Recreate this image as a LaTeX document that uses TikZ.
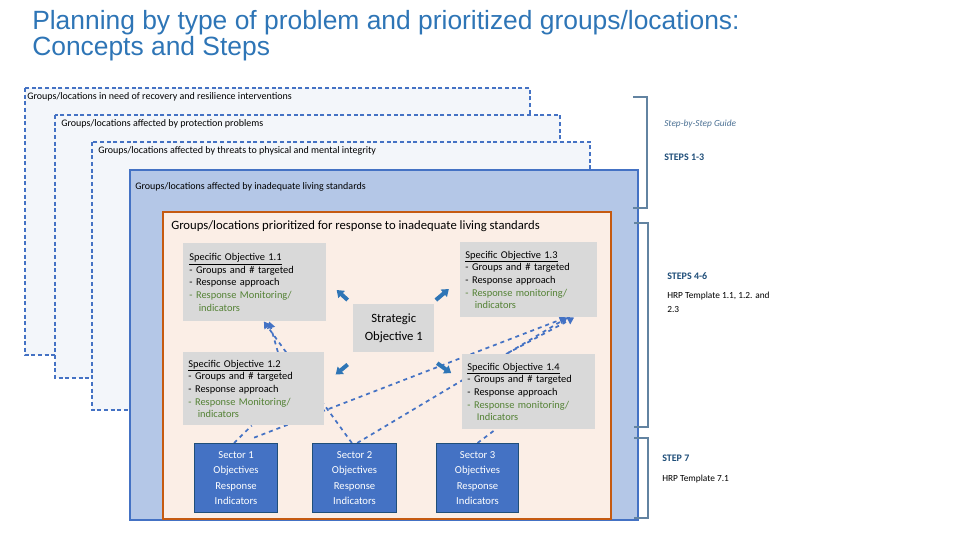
\documentclass[tikz,border=0pt]{standalone}
\usepackage{fontspec}
\setmainfont{Carlito}
\newfontfamily\titlefont{Liberation Sans}
\usetikzlibrary{arrows.meta}
\definecolor{tblue}{HTML}{2E75B6}
\definecolor{bblue}{HTML}{4472C4}
\definecolor{lblue}{HTML}{B4C7E7}
\definecolor{pale}{HTML}{F3F6FA}
\definecolor{peach}{HTML}{FBEEE6}
\definecolor{orng}{HTML}{C55A11}
\definecolor{gbox}{HTML}{D9D9D9}
\definecolor{grn}{HTML}{548235}
\definecolor{stepc}{HTML}{1F4E79}
\pgfdeclarelayer{bg}\pgfdeclarelayer{lines}
\pgfsetlayers{bg,lines,main}
\begin{document}
\begin{tikzpicture}[x=0.75pt,y=-0.75pt,
  outer/.style={draw=bblue,densely dashed,line width=1.2pt,fill=pale},
  lab/.style={anchor=north west,inner sep=0pt,font=\fontsize{7.5}{8}\selectfont},
  so/.style={fill=gbox,anchor=north west,inner sep=0pt,align=left,font=\fontsize{7.8}{10.5}\selectfont},
  sec/.style={fill=bblue,draw=stepc,line width=0.8pt,text=white,align=center,font=\fontsize{8}{11.5}\selectfont,inner sep=0pt,anchor=north west},
  bigarr/.style={draw=tblue,line width=3pt,-{Triangle[length=5pt,width=7pt]}},
  dl/.style={draw=bblue,dashed,line width=1.3pt},
  dla/.style={dl,-{Triangle[length=5pt,width=6pt]}},
  brk/.style={draw=stepc!70,line width=0.8pt},
  steplab/.style={anchor=west,inner sep=0pt,text=stepc,font=\bfseries\fontsize{7.5}{9}\selectfont},
  note/.style={anchor=west,inner sep=0pt,align=left,font=\fontsize{7}{10.5}\selectfont}]
\useasboundingbox (0,0) rectangle (960,540);
\node[anchor=north west,inner sep=0pt,text=tblue,align=left,font=\titlefont\fontsize{19.8}{19.5}\selectfont] (title) at (32,10) {Planning by type of problem and prioritized groups/locations:\\Concepts and Steps};
\begin{pgfonlayer}{bg}
\path[outer] (25,88) rectangle (530,355);
\path[outer] (55,115) rectangle (560,378);
\path[outer] (92,142) rectangle (590,410);
\path[draw=bblue,fill=lblue,line width=1.5pt] (130,170) rectangle (638,520);
\path[draw=orng,fill=peach,line width=1.8pt] (163,212) rectangle (611,519);
\end{pgfonlayer}
\node[lab] (l1) at (27,92) {Groups/locations in need of recovery and resilience interventions};
\node[lab] (l2) at (61,119) {Groups/locations affected by protection problems};
\node[lab] (l3) at (98,146) {Groups/locations affected by threats to physical and mental integrity};
\node[lab] (l4) at (135,182) {Groups/locations affected by inadequate living standards};
\node[lab,font=\fontsize{9.5}{10}\selectfont] (l5) at (171,220) {Groups/locations prioritized for response to inadequate living standards};

\node[so,minimum width=143*0.75pt,minimum height=78*0.75pt,text width=136*0.75pt] (s11) at (183,243) {\hspace*{2pt}\underline{Specific Objective 1.1}\\[-1pt]
\hspace*{2pt}- Groups and \# targeted\\[-1pt]\hspace*{2pt}- Response approach\\[-1pt]\hspace*{2pt}\textcolor{grn}{- Response Monitoring/}\\[-1pt]\hspace*{9pt}\textcolor{grn}{indicators}};
\node[so,minimum width=137*0.75pt,minimum height=75*0.75pt,text width=132*0.75pt] (s13) at (460,242) {\hspace*{2pt}\underline{Specific Objective 1.3}\\[-1pt]
\hspace*{2pt}- Groups and \# targeted\\[-1pt]\hspace*{2pt}- Response approach\\[-1pt]\hspace*{2pt}\textcolor{grn}{- Response monitoring/}\\[-1pt]\hspace*{9pt}\textcolor{grn}{indicators}};
\node[so,minimum width=141*0.75pt,minimum height=73*0.75pt,text width=136*0.75pt] (s12) at (183,352) {\hspace*{2pt}\underline{Specific Objective 1.2}\\[-1pt]
\hspace*{2pt}- Groups and \# targeted\\[-1pt]\hspace*{2pt}- Response approach\\[-1pt]\hspace*{2pt}\textcolor{grn}{- Response Monitoring/}\\[-1pt]\hspace*{9pt}\textcolor{grn}{indicators}};
\node[so,minimum width=133*0.75pt,minimum height=75*0.75pt,text width=128*0.75pt] (s14) at (462,354) {\hspace*{2pt}\underline{Specific Objective 1.4}\\[-1pt]
\hspace*{2pt}- Groups and \# targeted\\[-1pt]\hspace*{2pt}- Response approach\\[-1pt]\hspace*{2pt}\textcolor{grn}{- Response monitoring/}\\[-1pt]\hspace*{9pt}\textcolor{grn}{Indicators}};
\node[fill=gbox,anchor=north west,inner sep=0pt,minimum width=81*0.75pt,minimum height=48*0.75pt,align=center,font=\fontsize{9.5}{13}\selectfont] (so1) at (353,304) {Strategic\\Objective 1};

\node[sec,minimum width=83*0.75pt,minimum height=69*0.75pt] (sec1) at (194,443) {Sector 1\\Objectives\\Response\\Indicators};
\node[sec,minimum width=84*0.75pt,minimum height=69*0.75pt] (sec2) at (312,443) {Sector 2\\Objectives\\Response\\Indicators};
\node[sec,minimum width=82*0.75pt,minimum height=69*0.75pt] (sec3) at (436,443) {Sector 3\\Objectives\\Response\\Indicators};

\begin{pgfonlayer}{lines}
\draw[dl] ([xshift=-1.5pt]sec1.north) -- ([xshift=-1.5pt]s12.south);
\draw[dla] ([xshift=-35pt]s12.north east) -- ([xshift=-43pt]s11.south east);
\draw[dla] ([xshift=-2pt]sec2.north) -- ([xshift=-47pt]s11.south east);
\draw[dla] ([xshift=-18pt,yshift=4pt]sec1.north east) -- ([xshift=28pt]s13.south);
\draw[dla] ([xshift=2pt]sec2.north) -- ([xshift=29pt]s13.south);
\draw[dla] ([xshift=-17pt]s14.north) -- ([xshift=34pt]s13.south);
\draw[dl] ([xshift=0pt]sec3.north) -- ([xshift=-25pt]s14.south);
\end{pgfonlayer}
\draw[bigarr] ([xshift=-4pt,yshift=3pt]so1.north west) -- ++(-11,-10);
\draw[bigarr] ([xshift=1pt,yshift=3pt]so1.north east) -- ++(13,-11);
\draw[bigarr] ([xshift=-4pt,yshift=-9pt]so1.south west) -- ++(-12,10);
\draw[bigarr] ([xshift=2pt,yshift=-8pt]so1.south east) -- ++(14,10);

\coordinate (b1t) at (633,97); \coordinate (b1b) at (633,208);
\draw[brk] (b1t) -- ++(14,0) -- ++(0,111) -- (b1b);
\coordinate (b2t) at (634,223); \coordinate (b2b) at (634,427);
\draw[brk] (b2t) -- ++(14,0) -- ++(0,204) -- (b2b);
\coordinate (b3t) at (634,438); \coordinate (b3b) at (634,518);
\draw[brk] (b3t) -- ++(14,0) -- ++(0,80) -- (b3b);
\node[note,text=stepc!80,font=\itshape\fontsize{7}{9}\selectfont] (g) at (664,124) {Step-by-Step Guide};
\node[steplab] (st1) at (664,157) {STEPS 1-3};
\node[steplab] (st2) at (667,276) {STEPS 4-6};
\node[note,anchor=north west] (h1) at (667,292) {HRP Template 1.1, 1.2. and\\2.3};
\node[steplab] (st3) at (662,458) {STEP 7};
\node[note] (h3) at (662,479) {HRP Template 7.1};
\end{tikzpicture}
\end{document}
